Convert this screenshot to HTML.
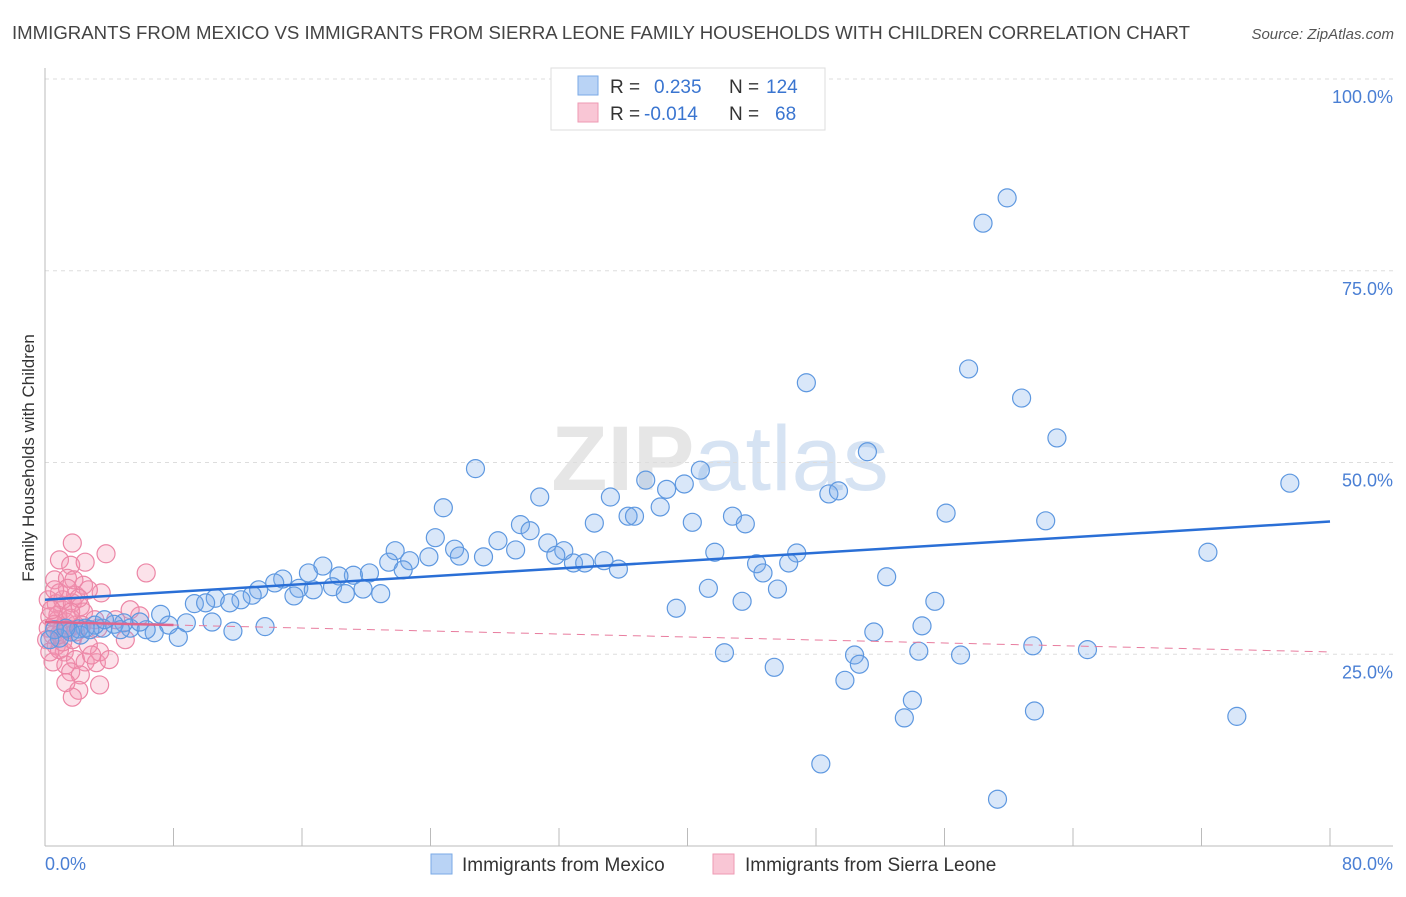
<!DOCTYPE html>
<html><head><meta charset="utf-8"><style>
body{margin:0;background:#fff;font-family:"Liberation Sans",sans-serif;}
svg text{font-family:"Liberation Sans",sans-serif;}
</style></head><body>
<svg id="chart" width="1406" height="892" xmlns="http://www.w3.org/2000/svg">
<text x="12" y="39" font-size="18" fill="#444" textLength="1178" lengthAdjust="spacingAndGlyphs">IMMIGRANTS FROM MEXICO VS IMMIGRANTS FROM SIERRA LEONE FAMILY HOUSEHOLDS WITH CHILDREN CORRELATION CHART</text>
<text x="1394" y="39" font-size="15" fill="#555" font-style="italic" text-anchor="end">Source: ZipAtlas.com</text>
<text x="720" y="490" font-size="92" text-anchor="middle" fill="#e6e6e6" font-family="Liberation Serif" font-weight="bold">ZIP<tspan fill="#d6e3f3" font-family="Liberation Sans" font-weight="normal">atlas</tspan></text>
<g id="grid"></g>
<g id="axes"></g>
<g id="marks"></g>
<text transform="translate(34,458) rotate(-90)" font-size="17" fill="#333" text-anchor="middle">Family Households with Children</text>
<g>
<rect x="551" y="68" width="274" height="62" fill="#fff" stroke="#ddd"/>
<rect x="578" y="76" width="20" height="19" fill="#b9d3f5" stroke="#7aa9e6"/>
<rect x="578" y="103" width="20" height="19" fill="#f9c6d5" stroke="#ee9ab3"/>
<text x="610" y="93" font-size="19" fill="#333">R = <tspan fill="#3a75d0" x="654">0.235</tspan><tspan x="729" fill="#333">N =</tspan><tspan x="766" fill="#3a75d0">124</tspan></text>
<text x="610" y="120" font-size="19" fill="#333">R = <tspan fill="#3a75d0" x="644">-0.014</tspan><tspan x="729" fill="#333">N =</tspan><tspan x="775" fill="#3a75d0">68</tspan></text>
</g>
<g>
<rect x="431" y="854" width="21" height="20" fill="#b9d3f5" stroke="#7aa9e6"/>
<text x="462" y="871" font-size="19" fill="#333">Immigrants from Mexico</text>
<rect x="713" y="854" width="21" height="20" fill="#f9c6d5" stroke="#ee9ab3"/>
<text x="745" y="871" font-size="19" fill="#333">Immigrants from Sierra Leone</text>
</g>
</svg>
<script>
const mexicoX=[59.9,58.4,47.4,57.5,60.8,63.0,77.5,51.2,26.8,40.8,37.4,39.8,38.7,38.3,48.8,49.4,35.2,30.8,24.8,56.1,62.3,42.8,43.6,40.3,36.3,36.7,34.2,29.6,30.2,24.3,28.2,31.3,32.3,29.3,31.8,25.5,25.8,27.3,23.9,21.8,41.7,46.8,72.4,46.3,22.7,21.4,34.8,32.9,33.6,35.7,44.3,44.7,17.3,20.2,19.2,22.3,18.3,16.4,52.4,14.8,13.3,14.3,15.8,15.5,16.7,17.9,18.7,19.8,20.9,12.9,41.3,45.6,12.2,10.6,11.5,9.3,10.0,7.2,43.4,55.4,39.3,10.4,8.8,7.7,13.7,11.7,8.3,6.8,6.3,5.3,5.9,4.9,4.3,3.6,3.1,2.5,2.1,1.6,0.9,0.6,0.3,54.6,51.6,42.3,54.4,57.0,61.5,64.9,50.4,50.7,45.4,49.8,54.0,53.5,61.6,74.2,48.3,59.3,3.7,4.7,2.2,1.3,2.8];
const mexicoY=[84.5,81.2,60.4,62.2,58.4,53.2,47.3,51.4,49.2,49.0,47.7,47.2,46.5,44.2,45.9,46.3,45.5,45.5,44.1,43.4,42.4,43.0,42.0,42.2,43.0,43.0,42.1,41.9,41.1,40.2,39.8,39.5,38.5,38.6,37.9,38.7,37.8,37.7,37.7,38.5,38.3,38.2,38.3,36.9,37.2,37.0,37.2,36.9,36.9,36.1,36.8,35.6,36.5,35.6,35.3,36.0,35.2,35.6,35.1,34.8,33.4,34.3,33.6,32.6,33.4,33.8,32.9,33.5,32.9,32.7,33.6,33.5,32.1,32.3,31.7,31.6,31.7,30.2,31.9,31.9,31.0,29.2,29.1,28.8,28.6,28.0,27.2,27.8,28.2,28.4,29.2,29.1,28.9,28.4,28.8,28.4,28.3,27.9,27.1,28.2,26.9,28.7,27.9,25.2,25.4,24.9,26.1,25.6,24.9,23.7,23.3,21.6,19.0,16.7,17.6,16.9,10.7,6.1,29.5,28.2,27.5,28.4,28.2];
const leoneX=[1.7,0.9,3.8,6.3,1.6,2.5,0.6,1.4,0.9,0.2,1.9,3.5,2.4,2.7,0.7,1.1,1.7,2.2,0.3,0.8,1.3,1.9,0.2,1.1,0.5,1.6,2.4,3.1,5.9,5.0,3.3,0.7,1.2,1.7,0.5,1.3,1.9,2.5,3.2,1.6,2.2,0.9,3.4,2.1,1.7,1.3,3.4,1.1,0.8,0.6,0.4,0.9,1.4,1.9,2.3,0.1,0.3,2.7,2.9,4.0,1.8,1.4,2.1,5.3,4.4,0.6,1.1,1.6];
const leoneY=[39.5,37.3,38.1,35.6,36.6,37.0,34.7,34.9,33.0,32.1,32.7,33.0,34.0,33.4,31.6,30.8,31.7,31.2,29.9,29.5,29.2,28.8,28.4,28.4,27.5,29.7,30.5,29.5,30.0,26.9,28.4,26.1,25.3,26.9,24.0,23.6,24.3,24.0,23.9,22.7,22.3,25.6,21.0,20.3,19.4,21.3,25.3,32.1,30.1,28.9,30.8,27.6,28.2,27.9,28.8,26.9,25.3,26.2,24.9,24.3,34.7,33.6,32.3,30.8,29.5,33.4,26.6,30.5];
const mexicoTrend=[32.1,42.3];
const leoneTrend=[29.2,25.3];
const xTicks=[0,8,16,24,32,40,48,56,64,72,80];
const yTicks=[25,50,75,100];
const yTickLabels=["25.0%","50.0%","75.0%","100.0%"];
const xEndLabels=["0.0%","80.0%"];

const NS="http://www.w3.org/2000/svg";
const X0=45,X1=1330,Y0=846,Y100=79;
const sx=v=>X0+(X1-X0)*v/80;
const sy=v=>Y0-(Y0-Y100)*v/100;
function mk(tag,attrs,parent){const e=document.createElementNS(NS,tag);for(const k in attrs)e.setAttribute(k,attrs[k]);parent.appendChild(e);return e;}
const grid=document.getElementById('grid'),axes=document.getElementById('axes'),marks=document.getElementById('marks');
yTicks.forEach((t,i)=>{
  const l=mk('line',{x1:X0,x2:1393,y1:sy(t),y2:sy(t),stroke:'#ddd','stroke-dasharray':'4,4'},grid);
  
  
  const tx=mk('text',{x:1393,y:sy(t)+24,'font-size':18,fill:'#4a7fd4','text-anchor':'end'},axes);
  tx.textContent=yTickLabels[i];
  
  
});
const ya=mk('line',{x1:X0,x2:X0,y1:68,y2:Y0,stroke:'#bbb'},axes);


const xa=mk('line',{x1:X0,x2:1393,y1:Y0,y2:Y0,stroke:'#bbb'},axes);


xTicks.forEach(t=>{
  const l=mk('line',{x1:sx(t),x2:sx(t),y1:828,y2:Y0,stroke:'#bbb'},axes);
  
  
});
const xl0=mk('text',{x:45,y:870,'font-size':18,fill:'#4a7fd4'},axes);xl0.textContent=xEndLabels[0];


const xl1=mk('text',{x:1393,y:870,'font-size':18,fill:'#4a7fd4','text-anchor':'end'},axes);xl1.textContent=xEndLabels[1];



leoneX.forEach((x,i)=>{
  const c=mk('circle',{cx:sx(x),cy:sy(leoneY[i]),r:9,fill:'rgba(244,150,180,0.28)',stroke:'#ec86a6','stroke-width':1.2},marks);
  
  
});
mexicoX.forEach((x,i)=>{
  const c=mk('circle',{cx:sx(x),cy:sy(mexicoY[i]),r:9,fill:'rgba(120,170,235,0.28)',stroke:'#5e98e0','stroke-width':1.2},marks);
  
  
});
const lt=mk('line',{x1:sx(0),y1:sy(leoneTrend[0]),x2:sx(80),y2:sy(leoneTrend[1]),stroke:'#e87c9e','stroke-width':1,'stroke-dasharray':'8,6'},marks);


const lts=mk('line',{x1:sx(0),y1:sy(leoneTrend[0]),x2:sx(8),y2:sy(leoneTrend[0]+(leoneTrend[1]-leoneTrend[0])*0.1),stroke:'#e0668e','stroke-width':2.5},marks);


const mt=mk('line',{x1:sx(0),y1:sy(mexicoTrend[0]),x2:sx(80),y2:sy(mexicoTrend[1]),stroke:'#2a6fd6','stroke-width':2.5},marks);


</script>
</body></html>
